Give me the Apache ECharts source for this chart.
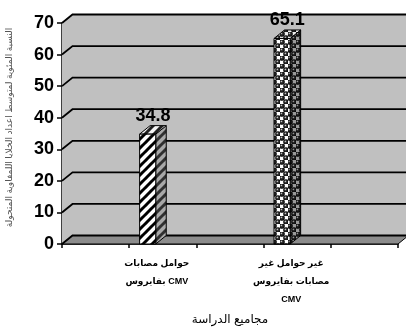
<!DOCTYPE html>
<html><head><meta charset="utf-8">
<script src="https://cdn.jsdelivr.net/npm/echarts@6/dist/echarts.min.js"></script>
<style>html,body{margin:0;padding:0;background:#fff}#c{width:406px;height:329px}</style>
</head><body><div id="c"></div>
<script>
// ---- data ----
const categories = ['حوامل مصابات بفايروس CMV', 'غير حوامل غير مصابات بفايروس CMV'];
const categoryLabels = ['حوامل مصابات\nبفايروس CMV', 'غير حوامل غير\nمصابات بفايروس\nCMV'];
const categorySlots = [1, 3]; // positions on the 5-slot axis
const slotNames = ['s0', categories[0], 's2', categories[1], 's4'];
const values = [34.8, 65.1];
const yTicks = [0, 10, 20, 30, 40, 50, 60, 70];
const yTitle = 'النسبة المئوية لمتوسط اعداد الخلايا اللمفاوية المتحولة';
const xTitle = 'مجاميع الدراسة';

// ---- patterns ----
function tile(w, h, draw) { const c = document.createElement('canvas'); c.width = w; c.height = h; draw(c.getContext('2d'), w, h); return c; }
function stripes(bg, fg) {
  return tile(9, 9, (g, w, h) => {
    g.fillStyle = bg; g.fillRect(0, 0, w, h);
    g.strokeStyle = fg; g.lineWidth = 3;
    for (let k = -1; k <= 1; k++) { g.beginPath(); g.moveTo(k * 9 - 1, 10); g.lineTo(k * 9 + 10, -1); g.stroke(); }
  });
}
function spheres(bg, dark, light) {
  return tile(8, 8, (g, w, h) => {
    g.fillStyle = bg; g.fillRect(0, 0, w, h);
    [[2, 2], [6, 6]].forEach(([x, y]) => {
      const gr = g.createRadialGradient(x - 0.8, y - 0.8, 0.2, x, y, 2.8);
      gr.addColorStop(0, light); gr.addColorStop(0.35, dark); gr.addColorStop(1, '#000');
      g.fillStyle = gr; g.beginPath(); g.arc(x, y, 2.8, 0, Math.PI * 2); g.fill();
    });
  });
}
const barStyles = [
  { front: stripes('#ffffff', '#000000'), side: stripes('#a8a8a8', '#303030'), top: stripes('#f4f4f4', '#202020') },
  { front: spheres('#ffffff', '#333', '#ddd'), side: spheres('#9a9a9a', '#222', '#aaa'), top: spheres('#eeeeee', '#333', '#ccc') }
];

const DX = 10.5, DY = -8.5;
const chart = echarts.init(document.getElementById('c'), null, { renderer: 'canvas' });
const font = "'Liberation Sans', Arial, 'DejaVu Sans', sans-serif";

chart.setOption({
  animation: false,
  grid: { left: 62, right: 8, top: 23, bottom: 85, containLabel: false, outerBoundsMode: 'none' },
  xAxis: {
    type: 'category', data: slotNames,
    axisLine: { show: true, lineStyle: { color: '#000', width: 1.5 } },
    axisTick: { show: true, interval: 0, length: 4, lineStyle: { color: '#000', width: 1.5 } },
    axisLabel: {
      interval: 0, margin: 11, fontSize: 9, fontWeight: 'bold', lineHeight: 18, color: '#000', fontFamily: font,
      padding: [0, 12, 0, 0],
      formatter: (v, i) => { const k = categorySlots.indexOf(i); return k >= 0 ? categoryLabels[k] : ''; }
    },
    name: xTitle, nameLocation: 'middle', nameGap: 69,
    nameTextStyle: { fontSize: 12, color: '#000', fontFamily: font }
  },
  yAxis: {
    type: 'value', min: 0, max: 70, interval: 10,
    axisLine: { show: true, lineStyle: { color: '#000', width: 1.5 } },
    axisTick: { show: true, length: 5, lineStyle: { color: '#000', width: 1.5 } },
    axisLabel: { fontSize: 18, fontWeight: 'bold', color: '#000', margin: 8, fontFamily: font },
    splitLine: { show: false },
    name: yTitle, nameLocation: 'middle', nameRotate: 90, nameGap: 48,
    nameTextStyle: { fontSize: 9, color: '#555', fontFamily: font, padding: [0, 0, 0, 12] }
  },
  series: [
    {
      type: 'custom', z: 1, clip: false, silent: true,
      data: [[0, 0]],
      renderItem: (params, api) => {
        const cs = params.coordSys;
        const x = cs.x, w = cs.width;
        const y0 = api.coord([0, 0])[1];
        const yT = api.coord([0, 70])[1];
        const ch = [];
        ch.push({ type: 'polygon', shape: { points: [[x, y0], [x, yT], [x + DX, yT + DY], [x + w + DX + 20, yT + DY], [x + w + DX + 20, y0 + DY], [x + DX, y0 + DY]] }, style: { fill: '#c0c0c0' } });
        ch.push({ type: 'polygon', shape: { points: [[x, y0], [x + w, y0], [x + w + DX, y0 + DY], [x + DX, y0 + DY]] }, style: { fill: '#8c8c8c', stroke: '#000', lineWidth: 1 } });
        yTicks.forEach(v => {
          const yy = api.coord([0, v])[1];
          ch.push({ type: 'polyline', shape: { points: [[x, yy], [x + DX, yy + DY], [x + w + DX + 20, yy + DY]] }, style: { stroke: '#000', lineWidth: 1.8, fill: null } });
        });
        return { type: 'group', children: ch };
      }
    },
    {
      type: 'custom', z: 5, clip: false,
      data: values.map((v, i) => [categorySlots[i], v, i]),
      renderItem: (params, api) => {
        const top = api.coord([api.value(0), api.value(1)]);
        const base = api.coord([api.value(0), 0]);
        const bw = api.size([1, 0])[0];
        const st = barStyles[api.value(2)];
        const x0 = top[0] - 0.345 * bw, x1 = x0 + 0.24 * bw;
        const t = top[1], b = base[1];
        const line = { stroke: '#000', lineWidth: 1 };
        return {
          type: 'group', children: [
            { type: 'polygon', shape: { points: [[x1, t], [x1 + DX, t + DY], [x1 + DX, b + DY], [x1, b]] }, style: Object.assign({ fill: { image: st.side, repeat: 'repeat' } }, line) },
            { type: 'polygon', shape: { points: [[x0, t], [x1, t], [x1 + DX, t + DY], [x0 + DX, t + DY]] }, style: Object.assign({ fill: { image: st.top, repeat: 'repeat' } }, line) },
            { type: 'rect', shape: { x: x0, y: t, width: x1 - x0, height: b - t }, style: Object.assign({ fill: { image: st.front, repeat: 'repeat' } }, line) },
            { type: 'text', style: { text: String(values[api.value(2)]), x: (x0 + x1 + DX) / 2, y: t + DY - 1, align: 'center', verticalAlign: 'bottom', font: 'bold 18px ' + font, fill: '#000' } }
          ]
        };
      }
    }
  ]
});
</script></body></html>
